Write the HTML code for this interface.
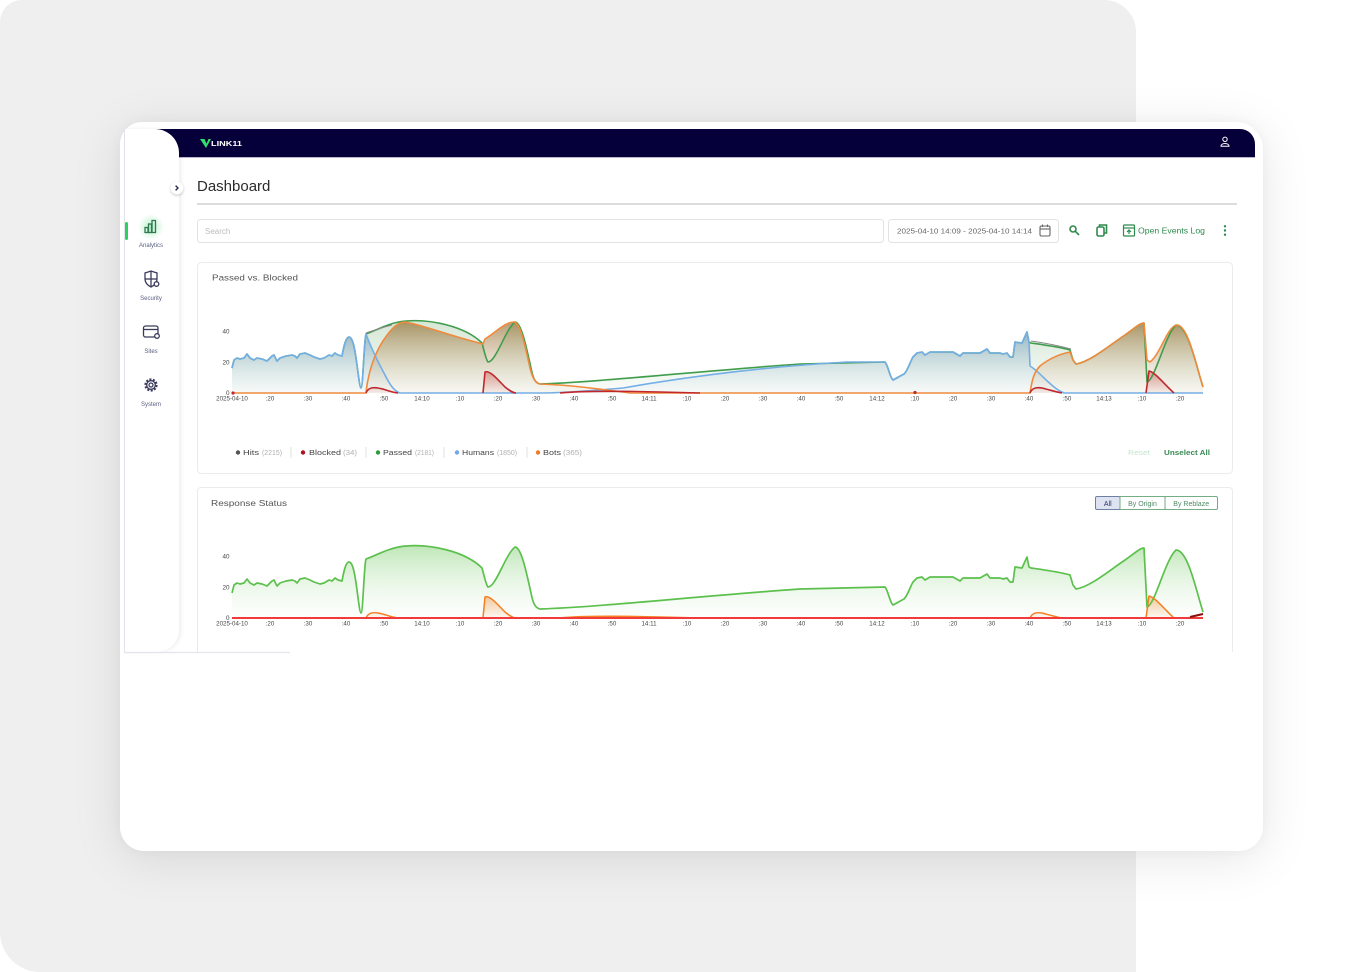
<!DOCTYPE html>
<html><head><meta charset="utf-8">
<style>
html,body{margin:0;padding:0;background:#fff;}
body{width:1355px;height:972px;position:relative;overflow:hidden;font-family:"Liberation Sans",sans-serif;}
.bg{position:absolute;left:0;top:0;width:1136px;height:972px;background:#efefef;border-radius:22px 32px 0 40px;}
.card{position:absolute;left:120px;top:122px;width:1143px;height:729px;background:#fff;border-radius:22px 27px 24px 24px;box-shadow:0 8px 50px rgba(0,0,0,0.10),0 0 12px rgba(0,0,0,0.04);}
.nav{position:absolute;left:150px;top:129px;width:1105px;height:28px;background:#06003a;border-top-right-radius:15px;border-bottom:1px solid #b9b6cf;}
.side{position:absolute;left:124px;top:129px;width:54px;height:523px;background:#fff;border-left:1px solid #e2e3ea;border-top-right-radius:24px;border-bottom-right-radius:22px;box-shadow:2px 0 4px rgba(0,0,0,0.07);}
svg.o{position:absolute;left:0;top:0;}
</style></head><body>
<div class="bg"></div>
<div class="card"></div>
<div class="nav"></div>
<div class="side"></div>
<svg class="o" width="1355" height="972" viewBox="0 0 1355 972" font-family="Liberation Sans, sans-serif">
<defs>
<linearGradient id="gBlue" x1="0" y1="0" x2="0" y2="1"><stop offset="0" stop-color="#5f8caf" stop-opacity="0.55"/><stop offset="1" stop-color="#c8dce8" stop-opacity="0.08"/></linearGradient>
<linearGradient id="gGreen" x1="0" y1="0" x2="0" y2="1"><stop offset="0" stop-color="#6aaa6a" stop-opacity="0.28"/><stop offset="1" stop-color="#6aaa6a" stop-opacity="0.03"/></linearGradient>
<linearGradient id="gOrange" x1="0" y1="0" x2="0" y2="1"><stop offset="0" stop-color="#8c5f1e" stop-opacity="0.62"/><stop offset="1" stop-color="#e8d8c0" stop-opacity="0.15"/></linearGradient>
<linearGradient id="gRed" x1="0" y1="0" x2="0" y2="1"><stop offset="0" stop-color="#c03030" stop-opacity="0.4"/><stop offset="1" stop-color="#c03030" stop-opacity="0.05"/></linearGradient>
<linearGradient id="gG2" x1="0" y1="0" x2="0" y2="1"><stop offset="0" stop-color="#66c455" stop-opacity="0.42"/><stop offset="1" stop-color="#e8f6e6" stop-opacity="0.1"/></linearGradient>
<linearGradient id="gO2" x1="0" y1="0" x2="0" y2="1"><stop offset="0" stop-color="#f08a30" stop-opacity="0.45"/><stop offset="1" stop-color="#f08a30" stop-opacity="0.05"/></linearGradient>
<radialGradient id="glow"><stop offset="0" stop-color="#5ee08a" stop-opacity="0.45"/><stop offset="1" stop-color="#5ee08a" stop-opacity="0"/></radialGradient>
<filter id="sh" x="-50%" y="-50%" width="200%" height="200%"><feDropShadow dx="0" dy="1" stdDeviation="1.2" flood-color="#000" flood-opacity="0.25"/></filter>

<path id="hLine" d="M232,368 L234,360 L237,358 L240,359 L244,358 L247,354 L250,358 L254,360 L257,358 L262,359 L267,361 L272,356 L274,355 L277,361 L280,358 L286,356 L292,355 L295,356 L297,358 L300,354 L305,353 L310,355 L314,357 L320,359 L324,358 L329,355 L332,356 L335,353 L338,355 L342,356 C344,345 346,337 349,337 C353,337 355,350 357,365 C359,380 360,388 361,388 C363,388 364,340 366,334 C375,331 390,322 406,321 C430,319 465,326 482,343 C484,350 486,360 488,362 C496,362 505,330 515,322 C521,322 526,345 531,368 C533,378 535,383 540,384 C600,382 700,371 800,364 L885,362 C888,365 890,378 893,380 C897,378 900,376 904,374 C908,370 910,362 913,357 L917,353 L922,352 L925,355 L930,352 L953,352 L960,356 L963,353 L980,353 L987,349 L990,353 L1000,353 L1003,354 L1007,353 L1010,357 L1013,357 L1015,342 L1022,343 L1027,332 L1029,342 L1031,343 C1045,345 1060,347 1070,350 L1073,360 L1076,364 C1090,362 1110,345 1125,335 C1135,328 1140,323 1144,323 L1147,382 C1155,380 1165,335 1176,325 C1188,325 1196,365 1203,387"/>
<path id="hArea" d="M232,368 L234,360 L237,358 L240,359 L244,358 L247,354 L250,358 L254,360 L257,358 L262,359 L267,361 L272,356 L274,355 L277,361 L280,358 L286,356 L292,355 L295,356 L297,358 L300,354 L305,353 L310,355 L314,357 L320,359 L324,358 L329,355 L332,356 L335,353 L338,355 L342,356 C344,345 346,337 349,337 C353,337 355,350 357,365 C359,380 360,388 361,388 C363,388 364,340 366,334 C375,331 390,322 406,321 C430,319 465,326 482,343 C484,350 486,360 488,362 C496,362 505,330 515,322 C521,322 526,345 531,368 C533,378 535,383 540,384 C600,382 700,371 800,364 L885,362 C888,365 890,378 893,380 C897,378 900,376 904,374 C908,370 910,362 913,357 L917,353 L922,352 L925,355 L930,352 L953,352 L960,356 L963,353 L980,353 L987,349 L990,353 L1000,353 L1003,354 L1007,353 L1010,357 L1013,357 L1015,342 L1022,343 L1027,332 L1029,342 L1031,343 C1045,345 1060,347 1070,350 L1073,360 L1076,364 C1090,362 1110,345 1125,335 C1135,328 1140,323 1144,323 L1147,382 C1155,380 1165,335 1176,325 C1188,325 1196,365 1203,387 L1203,393 L232,393 Z"/>
<path id="rLine" d="M366,393 C368,388 372,387 378,388 C385,389 390,392 398,393 M483,393 L485,372 C490,370 498,380 505,387 C510,391 513,393 516,393 M560,393 C580,391 620,391 660,392 L700,393 M1030,393 C1032,388 1036,387 1042,388 C1050,390 1056,392 1062,393 M1146,393 L1149,371 C1155,372 1165,385 1174,393"/>
<path id="rArea" d="M366,393 C368,388 372,387 378,388 C385,389 390,392 398,393 Z M483,393 L485,372 C490,370 498,380 505,387 C510,391 513,393 516,393 Z M1030,393 C1032,388 1036,387 1042,388 C1050,390 1056,392 1062,393 Z M1146,393 L1149,371 C1155,372 1165,385 1174,393 Z"/>
</defs>

<!-- logo / nav -->
<polygon points="200,139 204.5,139 206.5,143.5 208.5,139 211,139 206,148" fill="#2ee06a"/>
<text x="211" y="146" font-size="7" font-weight="bold" fill="#fff" textLength="31" lengthAdjust="spacingAndGlyphs">LINK11</text>
<circle cx="1225" cy="139.3" r="2.2" fill="none" stroke="#fff" stroke-width="1"/>
<path d="M1221,146.3 C1221,142.6 1229,142.6 1229,146.3 Z" fill="none" stroke="#fff" stroke-width="1"/>

<!-- sidebar -->
<circle cx="177" cy="188" r="6.3" fill="#fff" filter="url(#sh)"/>
<path d="M175.6,185.6 L178,188 L175.6,190.4" fill="none" stroke="#2a2d4a" stroke-width="1.4"/>
<rect x="125" y="222" width="3" height="18" rx="1.5" fill="#2fd060"/>
<circle cx="151" cy="227" r="13" fill="url(#glow)"/>
<g fill="none" stroke="#2d7a50" stroke-width="1.3">
<rect x="145" y="227.5" width="3" height="5"/><rect x="148.5" y="224" width="3" height="8.5"/><rect x="152" y="220.5" width="3.5" height="12"/>
</g>
<text x="151" y="247" font-size="6" fill="#5a6080" text-anchor="middle">Analytics</text>
<g fill="none" stroke="#3a3a5c" stroke-width="1.3">
<path d="M145,273 L151,271 L157,273 L157,279 C157,283 154,285.5 151,287 C148,285.5 145,283 145,279 Z"/>
<line x1="151" y1="271" x2="151" y2="287"/><line x1="145" y1="279" x2="157" y2="279"/>
<circle cx="156.5" cy="284" r="2.3" fill="#fff"/>
<rect x="143.5" y="326" width="14.5" height="11" rx="2"/><line x1="143.5" y1="329.5" x2="158" y2="329.5"/>
<circle cx="157" cy="336" r="2.3" fill="#fff"/>
<circle cx="151" cy="385" r="5.5" stroke-width="2.2" stroke-dasharray="2 1.45"/>
<circle cx="151" cy="385" r="4.3"/>
<circle cx="151" cy="385" r="2"/>
</g>
<text x="151" y="300" font-size="6" fill="#5a6080" text-anchor="middle">Security</text>
<text x="151" y="353" font-size="6" fill="#5a6080" text-anchor="middle">Sites</text>
<text x="151" y="406" font-size="6" fill="#5a6080" text-anchor="middle">System</text>

<!-- header -->
<text x="197" y="191" font-size="15" fill="#2b2b2b">Dashboard</text>
<rect x="197" y="203" width="1040" height="2" fill="#dcdcdc"/>
<rect x="197.5" y="219.5" width="686" height="23" rx="3" fill="#fff" stroke="#e3e3e3"/>
<text x="205" y="234" font-size="8" fill="#bdbdbd">Search</text>
<rect x="888.5" y="219.5" width="170" height="23" rx="3" fill="#fff" stroke="#e3e3e3"/>
<text x="897" y="233.5" font-size="7.6" fill="#666" textLength="135" lengthAdjust="spacingAndGlyphs">2025-04-10 14:09 - 2025-04-10 14:14</text>
<g fill="none" stroke="#666" stroke-width="1.1">
<rect x="1040" y="226" width="10" height="10" rx="1.5"/><line x1="1040" y1="229" x2="1050" y2="229"/>
<line x1="1042.5" y1="224.5" x2="1042.5" y2="227"/><line x1="1047.5" y1="224.5" x2="1047.5" y2="227"/>
</g>
<g fill="none" stroke="#2f8a4e" stroke-width="1.6">
<circle cx="1073" cy="229" r="3"/><line x1="1075.3" y1="231.3" x2="1079" y2="235"/>
<rect x="1097" y="227" width="7" height="9" rx="1.5"/><path d="M1099.5,227 L1099.5,225 L1106.5,225 L1106.5,233 L1104,233"/>
</g>
<g fill="none" stroke="#2f8a4e" stroke-width="1.2">
<rect x="1123.5" y="225" width="11" height="11" rx="1"/><line x1="1123.5" y1="228" x2="1134.5" y2="228"/>
<path d="M1129,234 L1129,230 M1127,232 L1129,230 L1131,232"/>
</g>
<text x="1138" y="233.5" font-size="8.5" fill="#2f8a4e" textLength="67" lengthAdjust="spacingAndGlyphs">Open Events Log</text>
<circle cx="1225" cy="226.3" r="1.2" fill="#2f8a4e"/><circle cx="1225" cy="230.5" r="1.2" fill="#2f8a4e"/><circle cx="1225" cy="234.7" r="1.2" fill="#2f8a4e"/>

<!-- card 1 -->
<rect x="197.5" y="262.5" width="1035" height="211" rx="4" fill="#fff" stroke="#ebebeb"/>
<text x="212" y="280.5" font-size="8.6" fill="#555" textLength="86" lengthAdjust="spacingAndGlyphs">Passed vs. Blocked</text>
<g font-size="6.3" fill="#444" text-anchor="end">
<text x="229.5" y="333.5">40</text><text x="229.5" y="364.5">20</text><text x="229.5" y="395">0</text>
</g>
<use href="#hArea" fill="url(#gGreen)"/>
<path d="M232,368 L234,360 L237,358 L240,359 L244,358 L247,354 L250,358 L254,360 L257,358 L262,359 L267,361 L272,356 L274,355 L277,361 L280,358 L286,356 L292,355 L295,356 L297,358 L300,354 L305,353 L310,355 L314,357 L320,359 L324,358 L329,355 L332,356 L335,353 L338,355 L342,356 C344,345 346,337 349,337 C353,337 355,350 357,365 C359,380 360,388 361,388 C363,388 364,340 366,334 C370,345 378,362 385,375 C390,385 394,391 400,393 L540,393 C560,393 600,390 623,388 C680,378 760,367 847,362 L885,362 C888,365 890,378 893,380 C897,378 900,376 904,374 C908,370 910,362 913,357 L917,353 L922,352 L925,355 L930,352 L953,352 L960,356 L963,353 L980,353 L987,349 L990,353 L1000,353 L1003,354 L1007,353 L1010,357 L1013,357 L1015,342 L1022,343 L1027,332 L1029,342 L1030,366 C1040,372 1050,386 1060,391 L1064,393 L1203,393 L232,393 Z" fill="url(#gBlue)"/>
<path d="M232,393 L366,393 C368,372 375,352 385,338 C392,328 398,322 405,322 C420,324 450,336 483,344 L485,339 C495,333 505,322 514,322 C520,322 525,345 530,368 C533,380 536,383 540,384 C570,385 600,389 630,393 L1030,393 C1032,380 1034,372 1040,366 C1050,358 1060,354 1070,352 L1073,360 L1076,364 C1090,362 1110,345 1125,335 C1135,328 1140,323 1144,323 L1147,360 L1150,362 C1160,355 1168,325 1177,325 C1188,325 1196,365 1203,387 L1203,393 Z" fill="url(#gOrange)"/>
<use href="#rArea" fill="url(#gRed)"/>
<g fill="none" stroke-width="1.6" stroke-linejoin="round">
<use href="#hLine" stroke="#3f9d4c"/>
<path d="M232,368 L234,360 L237,358 L240,359 L244,358 L247,354 L250,358 L254,360 L257,358 L262,359 L267,361 L272,356 L274,355 L277,361 L280,358 L286,356 L292,355 L295,356 L297,358 L300,354 L305,353 L310,355 L314,357 L320,359 L324,358 L329,355 L332,356 L335,353 L338,355 L342,356 C344,345 346,337 349,337 C353,337 355,350 357,365 C359,380 360,388 361,388 C363,388 364,340 366,334 C370,345 378,362 385,375 C390,385 394,391 400,393 L540,393 C560,393 600,390 623,388 C680,378 760,367 847,362 L885,362 C888,365 890,378 893,380 C897,378 900,376 904,374 C908,370 910,362 913,357 L917,353 L922,352 L925,355 L930,352 L953,352 L960,356 L963,353 L980,353 L987,349 L990,353 L1000,353 L1003,354 L1007,353 L1010,357 L1013,357 L1015,342 L1022,343 L1027,332 L1029,342 L1030,366 C1040,372 1050,386 1060,391 L1064,393 L1203,393" stroke="#74aee6"/>
<path d="M232,393 L366,393 C368,372 375,352 385,338 C392,328 398,322 405,322 C420,324 450,336 483,344 L485,339 C495,333 505,322 514,322 C520,322 525,345 530,368 C533,380 536,383 540,384 C570,385 600,389 630,393 L1030,393 C1032,380 1034,372 1040,366 C1050,358 1060,354 1070,352 L1073,360 L1076,364 C1090,362 1110,345 1125,335 C1135,328 1140,323 1144,323 L1147,360 L1150,362 C1160,355 1168,325 1177,325 C1188,325 1196,365 1203,387" stroke="#f08a3c"/>
<use href="#rLine" stroke="#c0272d"/>
<path d="M366,333 C372,331 380,328 392,325 M1031,341 C1045,343 1060,346 1071,349" stroke="#888" stroke-width="1.1"/>
</g>
<circle cx="233" cy="393" r="1.6" fill="#c0272d"/>
<circle cx="915" cy="392.5" r="1.6" fill="#c0272d"/>
<g font-size="6.2" fill="#444" text-anchor="middle">
<text x="232" y="400.5">2025-04-10</text><text x="270" y="400.5">:20</text><text x="308" y="400.5">:30</text><text x="346" y="400.5">:40</text><text x="384" y="400.5">:50</text><text x="422" y="400.5">14:10</text><text x="460" y="400.5">:10</text><text x="498" y="400.5">:20</text><text x="536" y="400.5">:30</text><text x="574" y="400.5">:40</text><text x="612" y="400.5">:50</text><text x="649" y="400.5">14:11</text><text x="687" y="400.5">:10</text><text x="725" y="400.5">:20</text><text x="763" y="400.5">:30</text><text x="801" y="400.5">:40</text><text x="839" y="400.5">:50</text><text x="877" y="400.5">14:12</text><text x="915" y="400.5">:10</text><text x="953" y="400.5">:20</text><text x="991" y="400.5">:30</text><text x="1029" y="400.5">:40</text><text x="1067" y="400.5">:50</text><text x="1104" y="400.5">14:13</text><text x="1142" y="400.5">:10</text><text x="1180" y="400.5">:20</text>
</g>
<!-- legend -->
<g font-size="7">
<circle cx="238" cy="452.5" r="2.2" fill="#555"/>
<text x="243" y="455" fill="#444" textLength="16" lengthAdjust="spacingAndGlyphs">Hits</text>
<text x="262" y="455" fill="#b0b0b0" textLength="20" lengthAdjust="spacingAndGlyphs">(2215)</text>
<line x1="291" y1="447" x2="291" y2="458" stroke="#e2e2e2"/>
<circle cx="303" cy="452.5" r="2.2" fill="#b01020"/>
<text x="309" y="455" fill="#444" textLength="32" lengthAdjust="spacingAndGlyphs">Blocked</text>
<text x="343" y="455" fill="#b0b0b0" textLength="14" lengthAdjust="spacingAndGlyphs">(34)</text>
<line x1="366" y1="447" x2="366" y2="458" stroke="#e2e2e2"/>
<circle cx="378" cy="452.5" r="2.2" fill="#2f9a3e"/>
<text x="383" y="455" fill="#444" textLength="29" lengthAdjust="spacingAndGlyphs">Passed</text>
<text x="415" y="455" fill="#b0b0b0" textLength="19" lengthAdjust="spacingAndGlyphs">(2181)</text>
<line x1="444" y1="447" x2="444" y2="458" stroke="#e2e2e2"/>
<circle cx="457" cy="452.5" r="2.2" fill="#6ea8e8"/>
<text x="462" y="455" fill="#444" textLength="32" lengthAdjust="spacingAndGlyphs">Humans</text>
<text x="497" y="455" fill="#b0b0b0" textLength="20" lengthAdjust="spacingAndGlyphs">(1850)</text>
<line x1="527" y1="447" x2="527" y2="458" stroke="#e2e2e2"/>
<circle cx="538" cy="452.5" r="2.2" fill="#f07a28"/>
<text x="543" y="455" fill="#444" textLength="18" lengthAdjust="spacingAndGlyphs">Bots</text>
<text x="563" y="455" fill="#b0b0b0" textLength="19" lengthAdjust="spacingAndGlyphs">(365)</text>
<text x="1128" y="455" fill="#c5e3cf" textLength="22" lengthAdjust="spacingAndGlyphs">Reset</text>
<text x="1164" y="455" fill="#3a8a55" font-weight="bold" textLength="46" lengthAdjust="spacingAndGlyphs">Unselect All</text>
</g>

<!-- card 2 -->
<path d="M197.5,652 L197.5,491.5 Q197.5,487.5 201.5,487.5 L1228.5,487.5 Q1232.5,487.5 1232.5,491.5 L1232.5,652" fill="#fff" stroke="#ebebeb"/>
<text x="211" y="506" font-size="8.6" fill="#555" textLength="76" lengthAdjust="spacingAndGlyphs">Response Status</text>
<rect x="1095.5" y="496.5" width="24.5" height="13" rx="1.5" fill="#dde3f1" stroke="#6f7fa3"/>
<text x="1107.8" y="506" font-size="7" fill="#2a3560" text-anchor="middle">All</text>
<rect x="1120" y="496.5" width="45" height="13" fill="#fff" stroke="#74ad84"/>
<text x="1142.5" y="506" font-size="7" fill="#4f8a64" text-anchor="middle">By Origin</text>
<rect x="1165" y="496.5" width="52.5" height="13" rx="1.5" fill="#fff" stroke="#74ad84"/>
<text x="1191.2" y="506" font-size="7" fill="#4f8a64" text-anchor="middle">By Reblaze</text>
<g font-size="6.3" fill="#444" text-anchor="end">
<text x="229.5" y="558.5">40</text><text x="229.5" y="589.5">20</text><text x="229.5" y="620">0</text>
</g>
<g transform="translate(0,225)">
<use href="#hArea" fill="url(#gG2)"/>
<use href="#rArea" fill="url(#gO2)"/>
<use href="#hLine" fill="none" stroke="#5cc04d" stroke-width="1.7" stroke-linejoin="round"/>
<use href="#rLine" fill="none" stroke="#f57f20" stroke-width="1.5" stroke-linejoin="round"/>
</g>
<line x1="232" y1="618" x2="1203" y2="618" stroke="#f23a3a" stroke-width="2"/>
<path d="M1190,617 L1203,614" stroke="#8a1010" stroke-width="2"/>
<g font-size="6.2" fill="#444" text-anchor="middle">
<text x="232" y="625.5">2025-04-10</text><text x="270" y="625.5">:20</text><text x="308" y="625.5">:30</text><text x="346" y="625.5">:40</text><text x="384" y="625.5">:50</text><text x="422" y="625.5">14:10</text><text x="460" y="625.5">:10</text><text x="498" y="625.5">:20</text><text x="536" y="625.5">:30</text><text x="574" y="625.5">:40</text><text x="612" y="625.5">:50</text><text x="649" y="625.5">14:11</text><text x="687" y="625.5">:10</text><text x="725" y="625.5">:20</text><text x="763" y="625.5">:30</text><text x="801" y="625.5">:40</text><text x="839" y="625.5">:50</text><text x="877" y="625.5">14:12</text><text x="915" y="625.5">:10</text><text x="953" y="625.5">:20</text><text x="991" y="625.5">:30</text><text x="1029" y="625.5">:40</text><text x="1067" y="625.5">:50</text><text x="1104" y="625.5">14:13</text><text x="1142" y="625.5">:10</text><text x="1180" y="625.5">:20</text>
</g>
<line x1="124" y1="652.5" x2="290" y2="652.5" stroke="#e3e5ea" stroke-width="1.2"/>
</svg>
</body></html>
